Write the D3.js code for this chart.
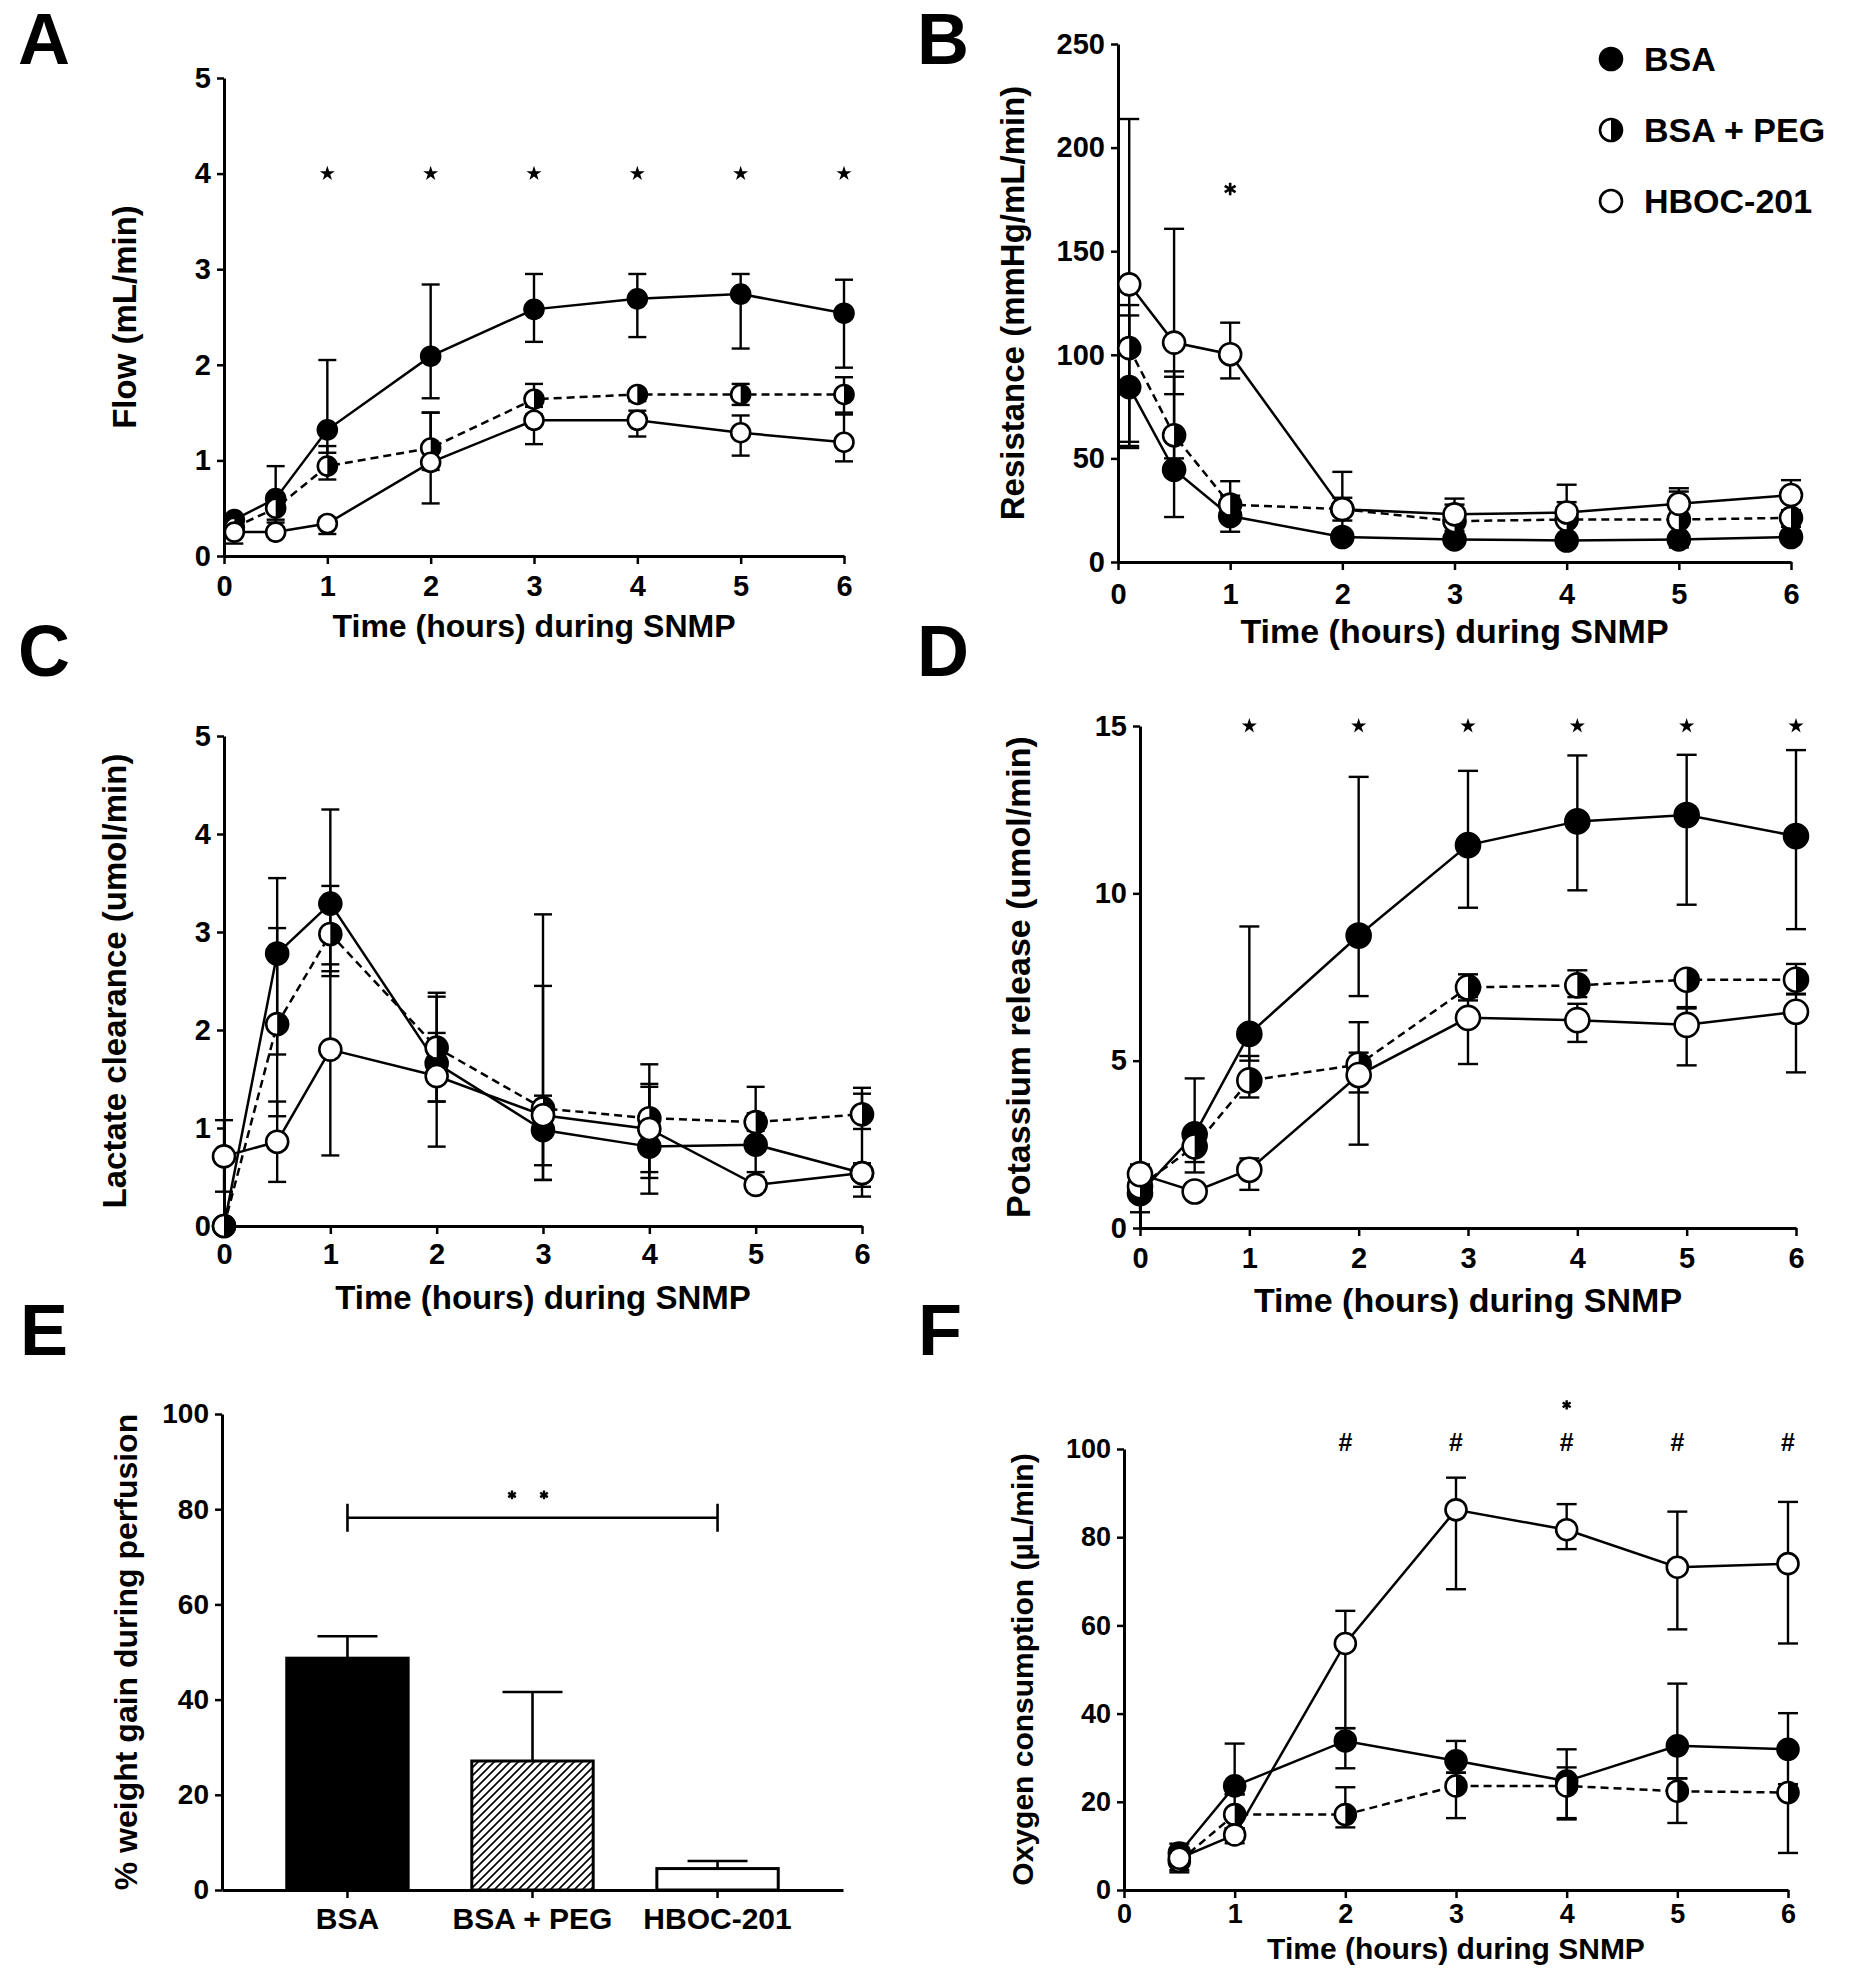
<!DOCTYPE html>
<html><head><meta charset="utf-8">
<script src="https://cdn.jsdelivr.net/npm/d3@7"></script>
<style>
body{margin:0;background:#fff}
svg{display:block}
text{font-family:"Liberation Sans",Arial,Helvetica,sans-serif;font-weight:bold;fill:#000}
</style>
</head><body>
<svg id="chart" width="1851" height="1980"></svg>
<script>
// ---------------- DATA ----------------
const seriesNames = ["BSA", "BSA + PEG", "HBOC-201"];
const timeTicks = [0, 1, 2, 3, 4, 5, 6];

// A: Flow (mL/min)
const flowTime = [0.1, 0.5, 1, 2, 3, 4, 5, 6];
const flowBSA = [0.38, 0.60, 1.32, 2.09, 2.58, 2.69, 2.74, 2.54];
const flowBSAHi = [0.42, 0.94, 2.05, 2.84, 2.95, 2.95, 2.95, 2.89];
const flowBSALo = [0.32, 0.30, 1.08, 1.65, 2.24, 2.29, 2.17, 1.97];
const flowPEG = [0.30, 0.50, 0.94, 1.13, 1.64, 1.69, 1.69, 1.69];
const flowPEGHi = [0.36, 0.58, 1.15, 1.50, 1.80, 1.74, 1.80, 1.87];
const flowPEGLo = [0.22, 0.38, 0.80, 0.90, 1.48, 1.62, 1.58, 1.50];
const flowHBOC = [0.25, 0.25, 0.34, 0.98, 1.42, 1.42, 1.29, 1.19];
const flowHBOCHi = [0.32, 0.35, 0.40, 1.50, 1.56, 1.52, 1.47, 1.48];
const flowHBOCLo = [0.13, 0.20, 0.23, 0.55, 1.17, 1.25, 1.05, 0.99];
const flowTicks = [0, 1, 2, 3, 4, 5];
const flowStars = [1, 2, 3, 4, 5, 6];

// B: Resistance (mmHg/mL/min)
const resTime = [0.1, 0.5, 1, 2, 3, 4, 5, 6];
const resBSA = [84.4, 44.5, 22.2, 12.1, 10.9, 10.4, 10.9, 12.1];
const resBSAHi = [119, 89.4, 32, 14, 13, 12.5, 13, 14.5];
const resBSALo = [56, 21.7, 14.6, 10, 9, 8.5, 9, 10];
const resPEG = [103.2, 61.2, 27.7, 25.5, 19.7, 20.5, 20.5, 21.3];
const resPEGHi = [124, 92, 39, 31, 27.7, 28.9, 34, 25];
const resPEGLo = [58, 50, 20, 20, 12, 12, 7, 17];
const resHBOC = [134, 105.9, 100.3, 25.5, 23, 23.9, 28.1, 32.3];
const resHBOCHi = [213.8, 160.8, 115.5, 43.5, 30.6, 37.3, 35.6, 39.5];
const resHBOCLo = [55, 81, 88.6, 10, 15, 10.5, 20.6, 25];
const resTicks = [0, 50, 100, 150, 200, 250];
const resStars = [1];

// C: Lactate clearance (umol/min)
const lacTime = [0, 0.5, 1, 2, 3, 4, 5, 6];
const lacBSA = [0, 2.78, 3.29, 1.66, 0.98, 0.81, 0.83, 0.54];
const lacBSAHi = [0, 3.55, 4.25, 2.38, 1.33, 1.65, 1.42, 1.35];
const lacBSALo = [0, 1.75, 2.6, 0.81, 0.62, 0.33, 0.55, 0.30];
const lacPEG = [0, 2.06, 2.98, 1.82, 1.20, 1.10, 1.06, 1.14];
const lacPEGHi = [0, 3.04, 3.47, 2.34, 2.45, 1.45, 1.15, 1.41];
const lacPEGLo = [0, 1.12, 2.55, 1.27, 0.47, 0.49, 0.97, 0.99];
const lacHBOC = [0.71, 0.86, 1.80, 1.53, 1.13, 0.99, 0.42, 0.54];
const lacHBOCHi = [1.08, 1.27, 2.67, 1.97, 3.18, 1.42, 0.50, 0.64];
const lacHBOCLo = [0.35, 0.45, 0.72, 1.27, 0.47, 0.55, 0.35, 0.40];
const lacTicks = [0, 1, 2, 3, 4, 5];

// D: Potassium release (umol/min)
const potTime = [0, 0.5, 1, 2, 3, 4, 5, 6];
const potBSA = [1.04, 2.80, 5.80, 8.74, 11.44, 12.15, 12.34, 11.71];
const potBSAHi = [1.3, 4.47, 9.01, 13.48, 13.66, 14.12, 14.14, 14.28];
const potBSALo = [0.47, 1.97, 5.0, 6.93, 9.57, 10.09, 9.66, 8.93];
const potPEG = [1.25, 2.44, 4.41, 4.88, 7.19, 7.25, 7.42, 7.42];
const potPEGHi = [1.5, 2.9, 5.14, 5.24, 7.58, 7.70, 7.63, 7.89];
const potPEGLo = [1.0, 1.66, 3.9, 4.05, 6.8, 6.9, 6.56, 6.98];
const potHBOC = [1.61, 1.09, 1.74, 4.57, 6.28, 6.21, 6.07, 6.46];
const potHBOCHi = [1.9, 1.3, 2.08, 6.15, 6.9, 6.7, 6.6, 7.0];
const potHBOCLo = [1.3, 0.9, 1.14, 2.49, 4.90, 5.56, 4.86, 4.65];
const potTicks = [0, 5, 10, 15];
const potStars = [1, 2, 3, 4, 5, 6];

// E: % weight gain during perfusion
const weightGain = [48.7, 27.1, 4.5];
const weightGainHi = [53.3, 41.6, 6.1];
const weightTicks = [0, 20, 40, 60, 80, 100];

// F: Oxygen consumption (µL/min)
const oxyTime = [0.5, 1, 2, 3, 4, 5, 6];
const oxyBSA = [8.4, 23.6, 33.8, 29.3, 24.7, 32.7, 31.9];
const oxyBSAHi = [10.5, 33.2, 36.7, 33.8, 31.9, 46.8, 40.1];
const oxyBSALo = [5.5, 21.7, 27.6, 26.6, 16.0, 25.3, 24.0];
const oxyPEG = [6.5, 17.1, 17.1, 23.6, 23.6, 22.4, 22.1];
const oxyPEGHi = [9.0, 21.7, 23.3, 26.6, 27.8, 25.3, 24.0];
const oxyPEGLo = [4.0, 14.0, 14.2, 16.3, 16.3, 15.2, 8.4];
const oxyHBOC = [7.2, 12.5, 55.9, 86.2, 81.7, 73.2, 74.0];
const oxyHBOCHi = [9.5, 14.0, 63.3, 93.5, 87.5, 85.8, 88.0];
const oxyHBOCLo = [4.5, 10.6, 36.7, 68.2, 77.3, 59.1, 55.9];
const oxyTicks = [0, 20, 40, 60, 80, 100];
const oxyHash = [2, 3, 4, 5, 6];
const oxyStars = [4];

// ---------------- DRAWING ----------------
const FONT = '"Liberation Sans", Arial, Helvetica, sans-serif';
const fmt = d3.format("d");
const svg = d3.select("#chart");
svg.append("rect").attr("width", 1851).attr("height", 1980).attr("fill", "#fff");

const defs = svg.append("defs");
const pat = defs.append("pattern").attr("id", "hatch").attr("patternUnits", "userSpaceOnUse")
  .attr("width", 8).attr("height", 8);
pat.append("rect").attr("width", 8).attr("height", 8).attr("fill", "#fff");
pat.append("path").attr("d", "M-2,2 L2,-2 M0,8 L8,0 M6,10 L10,6")
  .attr("stroke", "#000").attr("stroke-width", 1.6);

function styleAxis(g, fs) {
  g.attr("font-family", FONT).attr("font-size", fs).attr("font-weight", "bold");
  g.select(".domain").attr("stroke", "#000").attr("stroke-width", 3);
  g.selectAll(".tick line").attr("stroke", "#000").attr("stroke-width", 2.5);
  g.selectAll(".tick text").attr("fill", "#000");
}

function letter(t, x, y) {
  svg.append("text").attr("x", x).attr("y", y).attr("font-size", 72).text(t);
}

function marker(g, kind, cx, cy, r) {
  const m = g.append("g").attr("transform", `translate(${cx},${cy})`);
  m.append("circle").attr("r", r).attr("fill", kind === 0 ? "#000" : "#fff")
    .attr("stroke", "#000").attr("stroke-width", 2.6);
  if (kind === 1) {
    m.append("path").attr("d", `M0,${-r} A${r},${r} 0 0 1 0,${r} Z`).attr("fill", "#000");
  }
}

function linePanel(o) {
  const x = d3.scaleLinear().domain([0, 6]).range([o.x0, o.x1]);
  const y = d3.scaleLinear().domain([0, o.yMax]).range([o.y0, o.y1]);
  const g = svg.append("g");

  const ax = g.append("g").attr("transform", `translate(0,${o.y0})`)
    .call(d3.axisBottom(x).tickValues(timeTicks).tickFormat(fmt).tickSize(8).tickSizeOuter(0).tickPadding(o.xPad));
  styleAxis(ax, o.tickFs);
  const ay = g.append("g").attr("transform", `translate(${o.x0},0)`)
    .call(d3.axisLeft(y).tickValues(o.yTicks).tickFormat(fmt).tickSize(7).tickSizeOuter(0).tickPadding(6));
  styleAxis(ay, o.tickFs);

  g.append("text").attr("x", (o.x0 + o.x1) / 2).attr("y", o.xTitleY)
    .attr("text-anchor", "middle").attr("dominant-baseline", "central")
    .attr("font-size", o.titleFs).text("Time (hours) during SNMP");
  g.append("text").attr("transform", `translate(${o.yTitleX},${(o.y0 + o.y1) / 2}) rotate(-90)`)
    .attr("text-anchor", "middle").attr("dominant-baseline", "central")
    .attr("font-size", o.yTitleFs).text(o.yTitle);

  const line = d3.line().x(d => x(d.t)).y(d => y(d.v));
  o.series.forEach((s) => {
    const pts = o.time.map((t, i) => ({ t, v: s.v[i] }));
    g.append("path").datum(pts).attr("d", line).attr("fill", "none")
      .attr("stroke", "#000").attr("stroke-width", 2.5)
      .attr("stroke-dasharray", s.kind === 1 ? "8,5" : null);
  });
  o.series.forEach((s) => {
    const eg = g.append("g").attr("stroke", "#000").attr("stroke-width", 2.4);
    o.time.forEach((t, i) => {
      const hi = s.hi[i], lo = s.lo[i];
      if (hi - lo < 1e-9) return;
      const cx = x(t);
      eg.append("line").attr("x1", cx).attr("x2", cx).attr("y1", y(hi)).attr("y2", y(lo));
      eg.append("line").attr("x1", cx - o.cap).attr("x2", cx + o.cap).attr("y1", y(hi)).attr("y2", y(hi));
      eg.append("line").attr("x1", cx - o.cap).attr("x2", cx + o.cap).attr("y1", y(lo)).attr("y2", y(lo));
    });
  });
  o.series.forEach((s) => {
    o.time.forEach((t, i) => marker(g, s.kind, x(t), y(s.v[i]), o.r));
  });
  return { g, x, y };
}

// Panel A
const A = linePanel({
  x0: 224, x1: 844, y0: 556, y1: 78, yMax: 5, yTicks: flowTicks, xPad: 11, tickFs: 29,
  titleFs: 32, yTitleFs: 33, xTitleY: 626, yTitleX: 124, yTitle: "Flow (mL/min)",
  time: flowTime, r: 9.5, cap: 9,
  series: [
    { kind: 0, v: flowBSA, hi: flowBSAHi, lo: flowBSALo },
    { kind: 1, v: flowPEG, hi: flowPEGHi, lo: flowPEGLo },
    { kind: 2, v: flowHBOC, hi: flowHBOCHi, lo: flowHBOCLo }
  ]
});
flowStars.forEach(t => A.g.append("path").attr("d", d3.symbol(d3.symbolStar, 70)())
  .attr("transform", `translate(${A.x(t)},${A.y(4)})`).attr("fill", "#000"));

// Panel B
const B = linePanel({
  x0: 1118, x1: 1791, y0: 562, y1: 44, yMax: 250, yTicks: resTicks, xPad: 13, tickFs: 29,
  titleFs: 34, yTitleFs: 33, xTitleY: 631, yTitleX: 1012, yTitle: "Resistance (mmHg/mL/min)",
  time: resTime, r: 11, cap: 10,
  series: [
    { kind: 0, v: resBSA, hi: resBSAHi, lo: resBSALo },
    { kind: 1, v: resPEG, hi: resPEGHi, lo: resPEGLo },
    { kind: 2, v: resHBOC, hi: resHBOCHi, lo: resHBOCLo }
  ]
});
resStars.forEach(t => B.g.append("path").attr("d", d3.symbol(d3.symbolAsterisk, 110)())
  .attr("transform", `translate(${B.x(t)},${B.y(180)})`).attr("stroke", "#000").attr("stroke-width", 2.6).attr("fill", "none"));

// Legend (panel B)
const legY = [59, 130, 201];
seriesNames.forEach((n, k) => {
  marker(svg, k, 1611, legY[k], 11);
  svg.append("text").attr("x", 1644).attr("y", legY[k]).attr("dominant-baseline", "central")
    .attr("font-size", 34).text(n);
});

// Panel C
linePanel({
  x0: 224, x1: 862, y0: 1226, y1: 736, yMax: 5, yTicks: lacTicks, xPad: 9, tickFs: 29,
  titleFs: 33, yTitleFs: 33, xTitleY: 1297, yTitleX: 114, yTitle: "Lactate clearance (umol/min)",
  time: lacTime, r: 11, cap: 9,
  series: [
    { kind: 0, v: lacBSA, hi: lacBSAHi, lo: lacBSALo },
    { kind: 1, v: lacPEG, hi: lacPEGHi, lo: lacPEGLo },
    { kind: 2, v: lacHBOC, hi: lacHBOCHi, lo: lacHBOCLo }
  ]
});

// Panel D
const D = linePanel({
  x0: 1140, x1: 1796, y0: 1228, y1: 726, yMax: 15, yTicks: potTicks, xPad: 11, tickFs: 29,
  titleFs: 34, yTitleFs: 34, xTitleY: 1300, yTitleX: 1018, yTitle: "Potassium release (umol/min)",
  time: potTime, r: 12, cap: 10,
  series: [
    { kind: 0, v: potBSA, hi: potBSAHi, lo: potBSALo },
    { kind: 1, v: potPEG, hi: potPEGHi, lo: potPEGLo },
    { kind: 2, v: potHBOC, hi: potHBOCHi, lo: potHBOCLo }
  ]
});
potStars.forEach(t => D.g.append("path").attr("d", d3.symbol(d3.symbolStar, 70)())
  .attr("transform", `translate(${D.x(t)},${D.y(15)})`).attr("fill", "#000"));

// Panel F
const F = linePanel({
  x0: 1124, x1: 1788, y0: 1890, y1: 1449, yMax: 100, yTicks: oxyTicks, xPad: 6, tickFs: 27,
  titleFs: 30, yTitleFs: 30, xTitleY: 1948, yTitleX: 1022, yTitle: "Oxygen consumption (\u00B5L/min)",
  time: oxyTime, r: 10.5, cap: 10,
  series: [
    { kind: 0, v: oxyBSA, hi: oxyBSAHi, lo: oxyBSALo },
    { kind: 1, v: oxyPEG, hi: oxyPEGHi, lo: oxyPEGLo },
    { kind: 2, v: oxyHBOC, hi: oxyHBOCHi, lo: oxyHBOCLo }
  ]
});
oxyHash.forEach(t => F.g.append("text").attr("x", F.x(t)).attr("y", F.y(101.5))
  .attr("text-anchor", "middle").attr("dominant-baseline", "central").attr("font-size", 25).text("#"));
oxyStars.forEach(t => F.g.append("path").attr("d", d3.symbol(d3.symbolAsterisk, 60)())
  .attr("transform", `translate(${F.x(t)},${F.y(110)})`).attr("stroke", "#000").attr("stroke-width", 2.4).attr("fill", "none"));

// Panel E (bar chart)
(function () {
  const x = d3.scaleBand().domain(seriesNames).range([222, 843]).paddingInner(0.344).paddingOuter(0.35);
  const y = d3.scaleLinear().domain([0, 100]).range([1890, 1414]);
  const g = svg.append("g");
  const fills = ["#000", "url(#hatch)", "#fff"];
  seriesNames.forEach((n, i) => {
    const cx = x(n) + x.bandwidth() / 2;
    g.append("line").attr("x1", cx).attr("x2", cx).attr("y1", y(weightGain[i])).attr("y2", y(weightGainHi[i]))
      .attr("stroke", "#000").attr("stroke-width", 2.6);
    g.append("line").attr("x1", cx - 30).attr("x2", cx + 30).attr("y1", y(weightGainHi[i])).attr("y2", y(weightGainHi[i]))
      .attr("stroke", "#000").attr("stroke-width", 2.6);
  });
  g.selectAll("rect.bar").data(seriesNames).enter().append("rect")
    .attr("x", d => x(d)).attr("width", x.bandwidth())
    .attr("y", (d, i) => y(weightGain[i])).attr("height", (d, i) => y(0) - y(weightGain[i]))
    .attr("fill", (d, i) => fills[i]).attr("stroke", "#000").attr("stroke-width", 3);

  const ax = g.append("g").attr("transform", "translate(0,1890)")
    .call(d3.axisBottom(x).tickSize(8).tickSizeOuter(0).tickPadding(10));
  styleAxis(ax, 30);
  const ay = g.append("g").attr("transform", "translate(222,0)")
    .call(d3.axisLeft(y).tickValues(weightTicks).tickFormat(fmt).tickSize(7).tickSizeOuter(0).tickPadding(6));
  styleAxis(ay, 28);

  g.append("text").attr("transform", `translate(126,${(1890 + 1414) / 2}) rotate(-90)`)
    .attr("text-anchor", "middle").attr("dominant-baseline", "central")
    .attr("font-size", 32).text("% weight gain during perfusion");

  const xa = x(seriesNames[0]) + x.bandwidth() / 2, xb = x(seriesNames[2]) + x.bandwidth() / 2, yb = y(78.2);
  g.append("path").attr("d", `M${xa},${yb - 14}V${yb + 14}M${xa},${yb}H${xb}M${xb},${yb - 14}V${yb + 14}`)
    .attr("stroke", "#000").attr("stroke-width", 2.6).attr("fill", "none");
  [512, 544].forEach(px => g.append("path").attr("d", d3.symbol(d3.symbolAsterisk, 55)())
    .attr("transform", `translate(${px},${y(83)})`).attr("stroke", "#000").attr("stroke-width", 2.4).attr("fill", "none"));
})();

// Panel letters
letter("A", 18, 64);
letter("B", 917, 64);
letter("C", 18, 676);
letter("D", 917, 676);
letter("E", 20, 1355);
letter("F", 918, 1355);
</script>
</body></html>
